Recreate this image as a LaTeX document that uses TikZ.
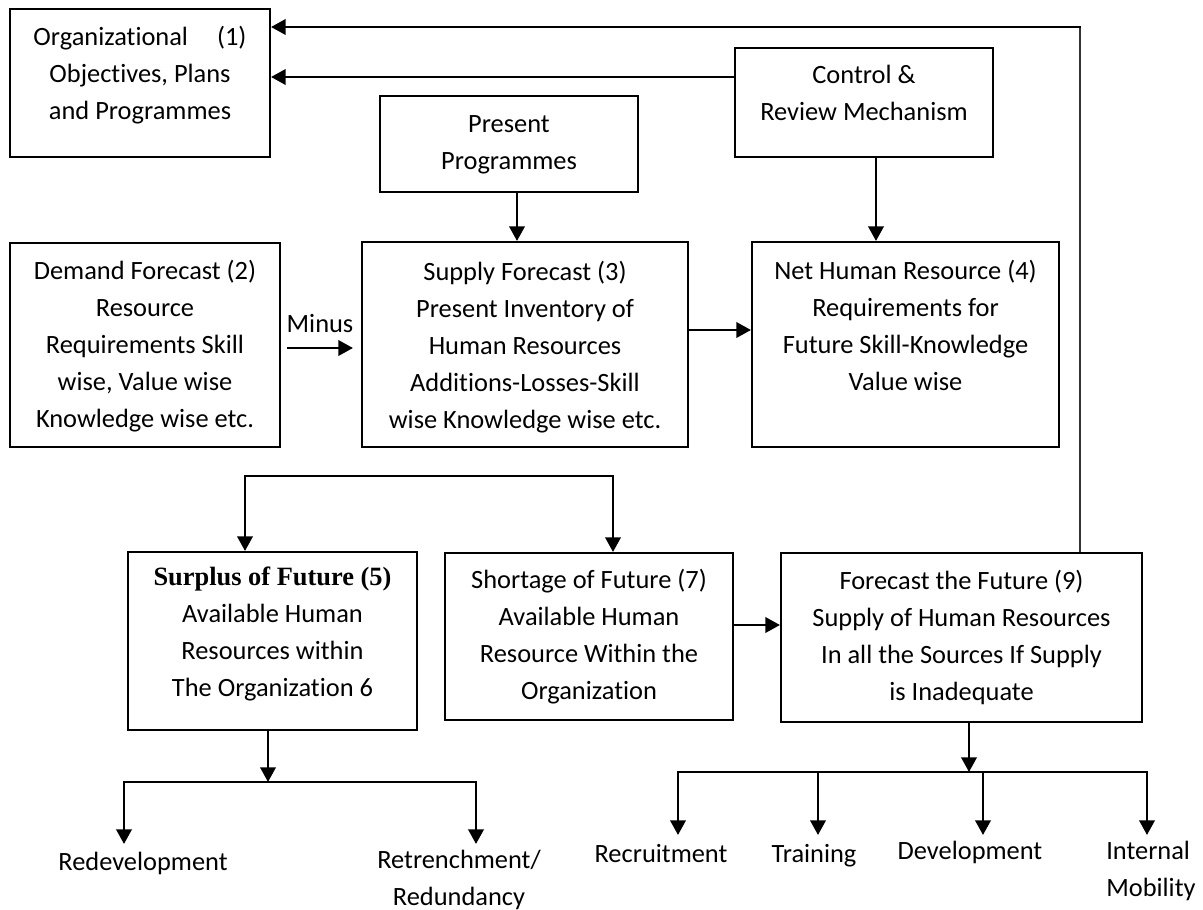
\documentclass[tikz,border=0pt]{standalone}
\usepackage{fontspec}
\setmainfont{Carlito}[Ligatures=NoCommon]
\newfontfamily\timesb{Liberation Serif}
\usetikzlibrary{arrows.meta,fit,calc}
\begin{document}
\begin{tikzpicture}[x=0.75pt,y=-0.75pt,
  box/.style={draw, line width=1.5pt, inner sep=0pt},
  txt/.style={inner sep=0pt, align=center, font=\fontsize{19.8}{27.75}\selectfont},
  tip/.tip={Triangle[length=11pt,width=11.5pt]},
  arr/.style={line width=2pt, -tip},
  dbl/.style={line width=2pt, tip-tip},
  ln/.style={line width=2pt}]
\useasboundingbox (0,0) rectangle (1203,910);
% boxes
\node[box, fit={(10,9)(270,157)}] (org) {};
\node[box, fit={(735,48)(993,157)}] (ctrl) {};
\node[box, fit={(380,96)(638,192)}] (pres) {};
\node[box, fit={(10,243)(280,447)}] (dem) {};
\node[box, fit={(362,242)(688,447)}] (sup) {};
\node[box, fit={(752,242)(1059,447)}] (net) {};
\node[box, fit={(128,552)(417,730)}] (sur) {};
\node[box, fit={(445,553)(733,720)}] (sho) {};
\node[box, fit={(781,553)(1142,722)}] (fut) {};
% texts
\node[txt] (torg) at (140,75) {\strut Organizational\hspace{1.1em}(1)\\ \strut Objectives, Plans\\ \strut and Programmes};
\node[txt] (tctrl) at (864,95) {\strut Control \&\\ \strut Review Mechanism};
\node[txt] (tpres) at (509,143.5) {\strut Present\\ \strut Programmes};
\node[txt] (tdem) at (145,346) {\strut Demand Forecast (2)\\ \strut Resource\\ \strut Requirements Skill\\ \strut wise, Value wise\\ \strut Knowledge wise etc.};
\node[txt] (tsup) at (525,347) {\strut Supply Forecast (3)\\ \strut Present Inventory of\\ \strut Human Resources\\ \strut Additions-Losses-Skill\\ \strut wise Knowledge wise etc.};
\node[txt] (tnet) at (905.5,327.5) {\strut Net Human Resource (4)\\ \strut Requirements for\\ \strut Future Skill-Knowledge\\ \strut Value wise};
\node[txt] (tsur) at (272.5,633.5) {\strut{\timesb\bfseries Surplus of Future (5)}\\ \strut Available Human\\ \strut Resources within\\ \strut The Organization 6};
\node[txt] (tsho) at (589,636.5) {\strut Shortage of Future (7)\\ \strut Available Human\\ \strut Resource Within the\\ \strut Organization};
\node[txt] (tfut) at (961.5,638) {\strut Forecast the Future (9)\\ \strut Supply of Human Resources\\ \strut In all the Sources If Supply\\ \strut is Inadequate};
\node[txt] (minus) at (320,325) {\strut Minus};
% helper coordinates
\coordinate (vx) at (1080,27);
\coordinate (y77) at (0,77);
\coordinate (a1) at (517,0);
\coordinate (a2) at (876,0);
\coordinate (a3) at (0,330);
\coordinate (m1) at (287,348);
\coordinate (m2) at (353,348);
\coordinate (br) at (0,476);
\coordinate (bl) at (245,0);
\coordinate (brr) at (613,0);
\coordinate (a4) at (0,625);
\coordinate (a5) at (268,782);
\coordinate (e1) at (124,844);
\coordinate (e2) at (476,844);
\coordinate (a6) at (969,772);
\coordinate (f1) at (678,835);
\coordinate (f2) at (818,835);
\coordinate (f3) at (983,835);
\coordinate (f4) at (1147,835);
\coordinate (h) at (0,772);
\coordinate (h5) at (0,782);
% connectors
\draw[line width=1.2pt, black!80] (fut.north -| vx) -- ([yshift=-0.8pt]vx);
\draw[arr] ([xshift=0.6pt]vx) -- (org.east |- vx);
\draw[arr] (ctrl.west |- y77) -- (org.east |- y77);
\draw[arr] (pres.south -| a1) -- (sup.north -| a1);
\draw[arr] (ctrl.south -| a2) -- (net.north -| a2);
\draw[arr] (m1) -- (m2);
\draw[arr] (sup.east |- a3) -- (net.west |- a3);
\draw[dbl] (sur.north -| bl) |- (br -| brr) -- (sho.north -| brr);
\draw[arr] (sho.east |- a4) -- (fut.west |- a4);
\draw[arr] (sur.south -| a5) -- (a5);
\draw[dbl] (e1) -- (e1 |- h5) -- (e2 |- h5) -- (e2);
\draw[arr] (fut.south -| a6) -- (a6);
\draw[dbl] (f1) -- (f1 |- h) -- (f4 |- h) -- (f4);
\draw[arr] (f2 |- h) -- (f2);
\draw[arr] (f3 |- h) -- (f3);
% labels
\node[txt] (redev) at (143,863) {\strut Redevelopment};
\node[txt] (retr) at (459,879.5) {\strut Retrenchment/\\ \strut Redundancy};
\node[txt] (recr) at (661,855) {\strut Recruitment};
\node[txt] (trai) at (814,855) {\strut Training};
\node[txt] (devl) at (970,852) {\strut Development};
\node[txt, align=left, anchor=west] (intm) at (1106,870.5) {\strut Internal\\ \strut Mobility};
\end{tikzpicture}
\end{document}
